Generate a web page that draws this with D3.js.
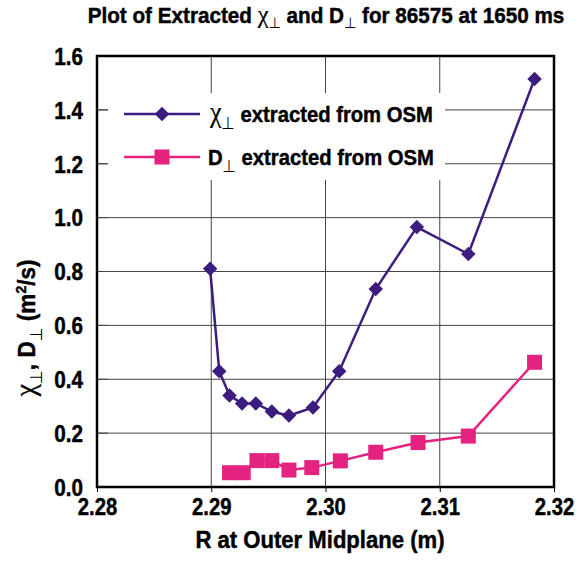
<!DOCTYPE html>
<html>
<head>
<meta charset="utf-8">
<script src="https://cdn.jsdelivr.net/npm/d3@7"></script>
<style>
  body { margin: 0; background: #fff; }
  svg text { font-family: "Liberation Sans", Arial, sans-serif; font-weight: bold; fill: #000; stroke: #000; stroke-width: 0.45px; }
  .sym { font-family: "Liberation Serif", "DejaVu Serif", serif; font-weight: normal; stroke-width: 0.2px; }
  .perp { font-family: "DejaVu Sans", sans-serif; font-weight: normal; stroke-width: 0; }
</style>
</head>
<body>
<div id="chart"></div>
<script>
// R positions (m) and extracted values
const rChi = [2.2899, 2.2907, 2.2916, 2.2927, 2.2939, 2.2953, 2.2968, 2.2989, 2.3012, 2.3044, 2.3080, 2.3125, 2.3183]
const chiVals = [0.81, 0.43, 0.34, 0.31, 0.31, 0.28, 0.265, 0.295, 0.43, 0.735, 0.965, 0.865, 1.515]
const rD = [2.2916, 2.2928, 2.2940, 2.2953, 2.2968, 2.2988, 2.3013, 2.3044, 2.3081, 2.3125, 2.3183]
const dVals = [0.053, 0.053, 0.098, 0.098, 0.063, 0.072, 0.097, 0.129, 0.165, 0.189, 0.463]
const xTicks = [2.28, 2.29, 2.30, 2.31, 2.32]
const yTicks = [0, 0.2, 0.4, 0.6, 0.8, 1.0, 1.2, 1.4, 1.6]

const chiColor = "#3d1c80"
const dColor = "#e3237f"

const margin = {top: 56, right: 22, bottom: 75, left: 97},
  width = 576 - margin.left - margin.right,
  height = 562 - margin.top - margin.bottom;

const root = d3.select("#chart")
  .append("svg")
    .attr("width", 576)
    .attr("height", 562)

const svg = root.append("g")
    .attr("transform", `translate(${margin.left},${margin.top})`);

const x = d3.scaleLinear().domain([2.28, 2.32]).range([0, width])
const y = d3.scaleLinear().domain([0, 1.6]).range([height, 0])

// grid
svg.append("g")
  .selectAll("line")
  .data(yTicks)
  .join("line")
    .attr("x1", 0).attr("x2", width)
    .attr("y1", d => y(d)).attr("y2", d => y(d))
    .attr("stroke", "#444").attr("stroke-width", 1)
svg.append("g")
  .selectAll("line")
  .data(xTicks)
  .join("line")
    .attr("x1", d => x(d)).attr("x2", d => x(d))
    .attr("y1", 0).attr("y2", height)
    .attr("stroke", "#444").attr("stroke-width", 1)

// legend box (covers the grid)
const legend = svg.append("g")
legend.append("rect")
  .attr("x", 11).attr("y", 37).attr("width", 337).attr("height", 87)
  .attr("fill", "#fff")
// short inner ticks on y axis that stay visible
svg.append("g")
  .selectAll("line")
  .data(yTicks)
  .join("line")
    .attr("x1", 0).attr("x2", 11)
    .attr("y1", d => y(d)).attr("y2", d => y(d))
    .attr("stroke", "#444")

// axes
const xAxis = svg.append("g")
  .attr("transform", `translate(0, ${height})`)
  .call(d3.axisBottom(x).tickValues(xTicks).tickFormat(d3.format(".2f")).tickSize(5))
xAxis.select(".domain").remove()
xAxis.selectAll("line").attr("stroke", "#000")
xAxis.selectAll("text")
  .attr("font-size", 23)
  .attr("y", 0)
  .attr("dy", 0)
  .attr("transform", "translate(0,28) scale(0.88,1)")

const yAxis = svg.append("g")
  .call(d3.axisLeft(y).tickValues(yTicks).tickFormat(d3.format(".1f")).tickSize(0))
yAxis.select(".domain").remove()
yAxis.selectAll("text")
  .attr("font-size", 23)
  .attr("x", 0)
  .attr("dy", "0.36em")
  .attr("transform", "translate(-14,0) scale(0.9,1)")

// frame
svg.append("rect")
  .attr("width", width).attr("height", height)
  .attr("fill", "none").attr("stroke", "#000").attr("stroke-width", 2.5)

// chi line
svg.append("path")
  .datum(rChi.map((r, i) => [r, chiVals[i]]))
  .attr("fill", "none").attr("stroke", chiColor).attr("stroke-width", 2.5)
  .attr("d", d3.line().x(d => x(d[0])).y(d => y(d[1])))
svg.append("g")
  .selectAll("path")
  .data(rChi.map((r, i) => [r, chiVals[i]]))
  .join("path")
    .attr("d", d3.symbol(d3.symbolSquare, 105))
    .attr("transform", d => `translate(${x(d[0])},${y(d[1])}) rotate(45)`)
    .attr("fill", chiColor)

// D line
svg.append("path")
  .datum(rD.map((r, i) => [r, dVals[i]]))
  .attr("fill", "none").attr("stroke", dColor).attr("stroke-width", 2.5)
  .attr("d", d3.line().x(d => x(d[0])).y(d => y(d[1])))
svg.append("g")
  .selectAll("rect")
  .data(rD.map((r, i) => [r, dVals[i]]))
  .join("rect")
    .attr("x", d => x(d[0]) - 7.5).attr("y", d => y(d[1]) - 7.5)
    .attr("width", 15).attr("height", 15)
    .attr("fill", dColor)

// legend entries
const row1 = 58, row2 = 101
legend.append("line").attr("x1", 27).attr("x2", 103).attr("y1", row1).attr("y2", row1)
  .attr("stroke", chiColor).attr("stroke-width", 2.5)
legend.append("path").attr("d", d3.symbol(d3.symbolSquare, 105))
  .attr("transform", `translate(65,${row1}) rotate(45)`).attr("fill", chiColor)
legend.append("line").attr("x1", 27).attr("x2", 103).attr("y1", row2).attr("y2", row2)
  .attr("stroke", dColor).attr("stroke-width", 2.5)
legend.append("rect").attr("x", 57.5).attr("y", row2 - 7.5).attr("width", 15).attr("height", 15)
  .attr("fill", dColor)

const t1 = legend.append("text").attr("transform", `translate(113,${row1 + 8}) scale(0.9,1)`).attr("font-size", 22.5)
t1.append("tspan").attr("class", "sym").attr("font-size", 29).text("χ")
t1.append("tspan").attr("class", "perp").attr("font-size", 17).attr("dy", 7).text("⊥")
t1.append("tspan").attr("dy", -7).text(" extracted from OSM")

const t2 = legend.append("text").attr("transform", `translate(111,${row2 + 8}) scale(0.9,1)`).attr("font-size", 22.5)
t2.append("tspan").text("D")
t2.append("tspan").attr("class", "perp").attr("font-size", 17).attr("dy", 7).text("⊥")
t2.append("tspan").attr("dy", -7).text(" extracted from OSM")

// title
const title = root.append("text")
  .attr("transform", "translate(326,23) scale(0.94,1)")
  .attr("text-anchor", "middle").attr("font-size", 22)
title.append("tspan").text("Plot of Extracted ")
title.append("tspan").attr("class", "sym").attr("font-size", 26).text("χ")
title.append("tspan").attr("class", "perp").attr("font-size", 15).attr("dy", 5).text("⊥")
title.append("tspan").attr("dy", -5).text(" and D")
title.append("tspan").attr("class", "perp").attr("font-size", 15).attr("dy", 5).text("⊥")
title.append("tspan").attr("dy", -5).text(" for 86575 at 1650 ms")

// x label
root.append("text")
  .attr("transform", "translate(320,548) scale(0.94,1)")
  .attr("text-anchor", "middle").attr("font-size", 23.5)
  .text("R at Outer Midplane (m)")

// y label
const yl = root.append("text")
  .attr("transform", "translate(35,328) rotate(-90) scale(0.94,1)")
  .attr("text-anchor", "middle").attr("font-size", 24)
yl.append("tspan").attr("class", "sym").attr("font-size", 30).text("χ")
yl.append("tspan").attr("class", "perp").attr("font-size", 17).attr("dy", 7).text("⊥")
yl.append("tspan").attr("dy", -7).text(", D")
yl.append("tspan").attr("class", "perp").attr("font-size", 17).attr("dy", 7).text("⊥")
yl.append("tspan").attr("dy", -7).text(" (m")
yl.append("tspan").attr("font-size", 15).attr("dy", -9).text("2")
yl.append("tspan").attr("dy", 9).text("/s)")
</script>
</body>
</html>
